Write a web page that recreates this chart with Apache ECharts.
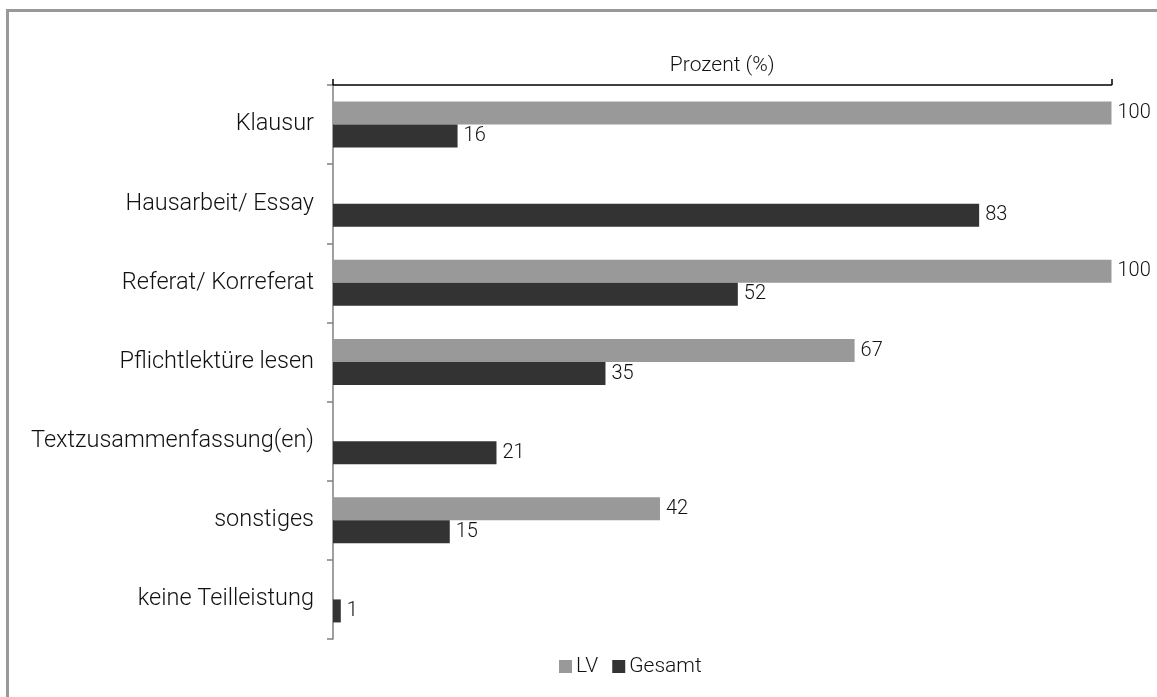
<!DOCTYPE html>
<html>
<head>
<meta charset="utf-8">
<script src="https://cdn.jsdelivr.net/npm/echarts@6/dist/echarts.min.js"></script>
<style>
html, body { margin: 0; padding: 0; background: #fff; }
#chart { width: 1157px; height: 697px; }
</style>
</head>
<body>
<div id="chart"></div>
<script>
const categories = ['Klausur', 'Hausarbeit/ Essay', 'Referat/ Korreferat', 'Pflichtlektüre lesen',
  'Textzusammenfassung(en)', 'sonstiges', 'keine Teilleistung']
const lvValues = [100, null, 100, 67, null, 42, null]
const gesamtValues = [16, 83, 52, 35, 21, 15, 1]
const seriesNames = ['LV', 'Gesamt']
const axisTitle = 'Prozent (%)'

const FONT = 'Roboto, "Liberation Sans", sans-serif'

const chart = echarts.init(document.getElementById('chart'))

chart.setOption({
  animation: false,
  textStyle: { fontFamily: FONT, fontWeight: 300 },
  color: ['#999999', '#333333'],
  graphic: [{
    type: 'rect',
    shape: { x: 7.5, y: 10.5, width: 1400, height: 1000 },
    style: { fill: 'none', stroke: '#999999', lineWidth: 3 },
    silent: true
  }],
  grid: { left: 333, right: 45.5, top: 85, bottom: 58 },
  legend: {
    data: seriesNames,
    left: 554,
    top: 651,
    itemWidth: 13,
    itemHeight: 13,
    itemGap: 14,
    icon: 'rect',
    textStyle: { fontSize: 21, fontWeight: 300, color: '#111', fontFamily: FONT, padding: [0, 0, 0, -1] }
  },
  xAxis: {
    type: 'value',
    position: 'top',
    min: 0,
    max: 100,
    interval: 100,
    name: axisTitle,
    nameLocation: 'middle',
    nameGap: 9,
    nameTextStyle: { fontSize: 21, fontWeight: 300, color: '#111', fontFamily: FONT },
    axisLine: { show: true, lineStyle: { color: '#000', width: 1.5 } },
    axisTick: { show: true, length: 6, lineStyle: { color: '#000', width: 1.5 } },
    axisLabel: { show: false },
    splitLine: { show: false }
  },
  yAxis: {
    type: 'category',
    data: categories,
    inverse: true,
    axisLine: { lineStyle: { color: '#808080', width: 1.5 } },
    axisTick: { show: true, length: 6, lineStyle: { color: '#808080', width: 1.5 } },
    axisLabel: { fontSize: 23.5, fontWeight: 300, color: '#111', margin: 19, fontFamily: FONT }
  },
  series: [
    {
      name: seriesNames[0],
      type: 'bar',
      data: lvValues,
      barWidth: 23,
      barGap: '0%',
      label: { show: true, position: 'right', distance: 6, fontSize: 20, fontWeight: 300, color: '#111', fontFamily: FONT }
    },
    {
      name: seriesNames[1],
      type: 'bar',
      data: gesamtValues,
      barWidth: 23,
      barGap: '0%',
      label: { show: true, position: 'right', distance: 6, fontSize: 20, fontWeight: 300, color: '#111', fontFamily: FONT }
    }
  ]
})
</script>
</body>
</html>
